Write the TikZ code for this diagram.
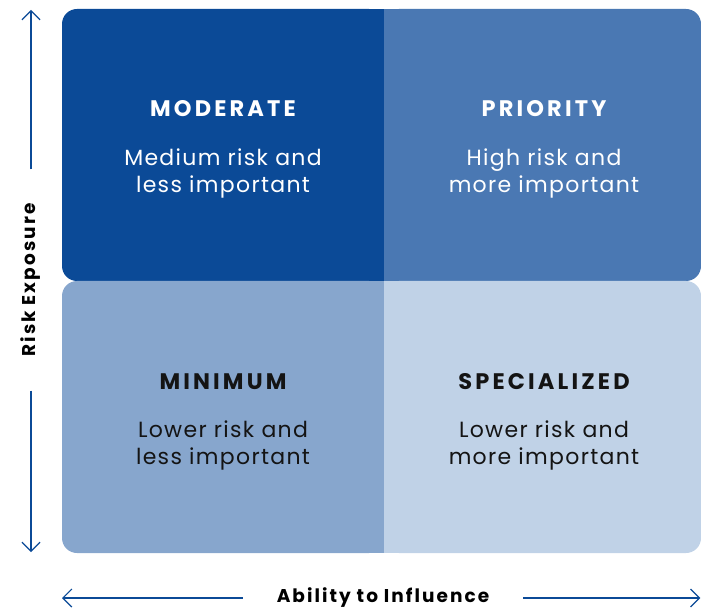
\documentclass[tikz,border=0pt]{standalone}
\usepackage{fontspec}
\setmainfont{Poppins}
\usetikzlibrary{arrows.meta}

\definecolor{qdark}{HTML}{0B4A97}
\definecolor{qmid}{HTML}{4A78B3}
\definecolor{qsoft}{HTML}{87A6CD}
\definecolor{qpale}{HTML}{C0D2E7}
\definecolor{qink}{HTML}{141414}

\newfontfamily\qtitlefont[LetterSpace=14]{Poppins}
\newfontfamily\qbodyfont[LetterSpace=6]{Poppins}
\newfontfamily\qaxisfont[LetterSpace=11]{Poppins}

\tikzset{
  qtitle/.style={font=\qtitlefont\fontsize{22.5}{22.5}\selectfont\bfseries, anchor=base},
  qbody/.style={font=\qbodyfont\fontsize{22}{27}\selectfont, align=center},
  axislabel/.style={font=\qaxisfont\fontsize{18.5}{18.5}\selectfont\bfseries, text=black, inner xsep=34pt},
  axisline/.style={qdark, line width=1.2pt, -{Straight Barb[length=9pt,width=18pt]}}
}

\begin{document}
\begin{tikzpicture}[x=1pt,y=-1pt]
\useasboundingbox (0,0) rectangle (701,609);

\def\r{15pt} \def\xl{62} \def\xm{384} \def\xr{701} \def\yt{9} \def\ym{281} \def\yb{553}

% quadrants
\fill[qdark, rounded corners=\r] (\xl,\yt) rectangle (\xm,\ym);
\fill[qdark] (\xm-40,\yt) rectangle (\xm,\ym);
\fill[qmid, rounded corners=\r] (\xm,\yt) rectangle (\xr,\ym);
\fill[qmid] (\xm,\yt) rectangle (\xm+40,\ym);
\fill[qsoft, rounded corners=\r] (\xl,\ym) rectangle (\xm,\yb);
\fill[qsoft] (\xm-40,\ym) rectangle (\xm,\yb);
\fill[qpale, rounded corners=\r] (\xm,\ym) rectangle (\xr,\yb);
\fill[qpale] (\xm,\ym) rectangle (\xm+40,\yb);

% texts
\node[qtitle, text=white] (modt) at (223,117) {MODERATE};
\node[qbody, text=white] (modb) at (223,173) {Medium risk and\\less important};
\node[qtitle, text=white] (prit) at (544,117) {PRIORITY};
\node[qbody, text=white] (prib) at (544,173) {High risk and\\more important};
\node[qtitle, text=qink] (mint) at (223,389) {MINIMUM};
\node[qbody, text=qink] (minb) at (223,445) {Lower risk and\\less important};
\node[qtitle, text=qink] (spet) at (544,389) {SPECIALIZED};
\node[qbody, text=qink] (speb) at (544,445) {Lower risk and\\more important};

% axes
\coordinate (ytop) at (31,10);
\coordinate (ybot) at (31,552);
\node[axislabel, rotate=90] (ylab) at (31,280) {Risk Exposure};
\draw[axisline] (ylab) -- (ytop);
\draw[axisline] (ylab) -- (ybot);

\coordinate (xleft) at (62,598);
\coordinate (xright) at (700.4,598);
\node[axislabel] (xlab) at (383,598) {Ability to Influence};
\draw[axisline] (xlab) -- (xleft);
\draw[axisline] (xlab) -- (xright);

\end{tikzpicture}
\end{document}
